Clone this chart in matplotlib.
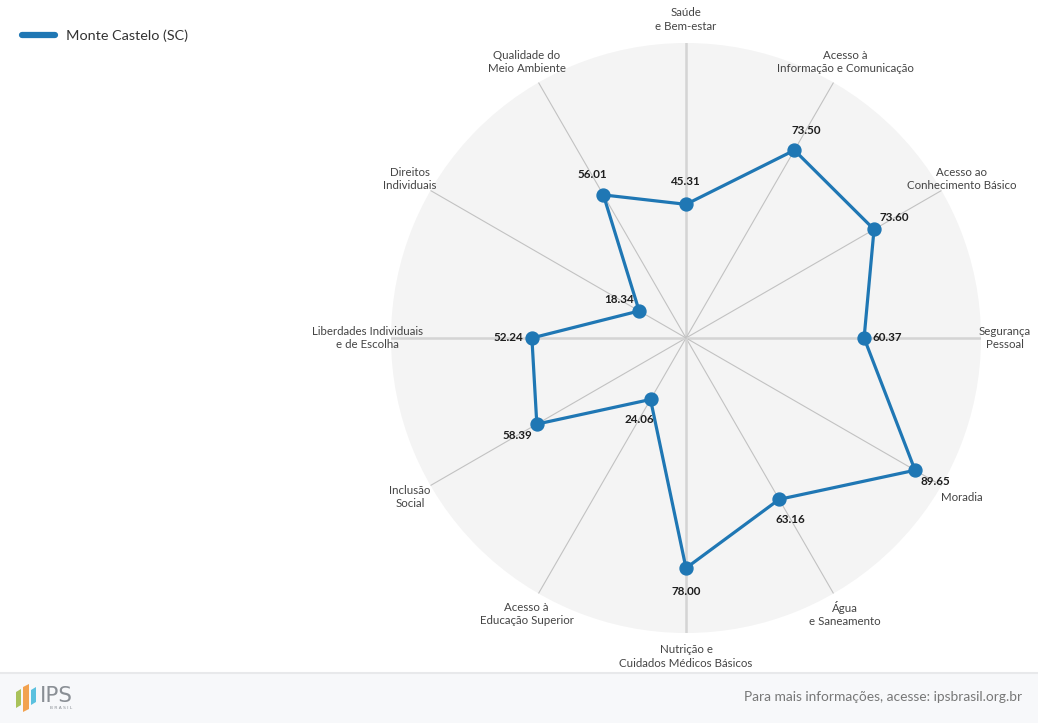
import numpy as np
import matplotlib
matplotlib.use("Agg")
import matplotlib.pyplot as plt
from matplotlib.lines import Line2D
from matplotlib.patches import Polygon, Rectangle

# data
categories = [
    "Saúde\ne Bem-estar",
    "Acesso à\nInformação e Comunicação",
    "Acesso ao\nConhecimento Básico",
    "Segurança\nPessoal",
    "Moradia",
    "Água\ne Saneamento",
    "Nutrição e\nCuidados Médicos Básicos",
    "Acesso à\nEducação Superior",
    "Inclusão\nSocial",
    "Liberdades Individuais\ne de Escolha",
    "Direitos\nIndividuais",
    "Qualidade do\nMeio Ambiente",
]
values = [45.31, 73.50, 73.60, 60.37, 89.65, 63.16, 78.00, 24.06, 58.39, 52.24, 18.34, 56.01]
series_name = "Monte Castelo (SC)"
footer_text = "Para mais informações, acesse: ipsbrasil.org.br"

W, H = 1038, 723
plt.rcParams['font.family'] = ['Lato', 'DejaVu Sans']

def px(x, y):
    # pixel coords (from top-left) -> figure fraction
    return (x / W, 1 - y / H)

fig = plt.figure(figsize=(W / 100, H / 100), dpi=100)
fig.patch.set_facecolor('white')

# polar axes centred at (686, 338), radius 295 px
cx, cy, R = 686, 338, 295
ax = fig.add_axes([(cx - R) / W, (H - cy - R) / H, 2 * R / W, 2 * R / H], projection='polar')
ax.set_theta_zero_location('N')
ax.set_theta_direction(-1)
ax.set_facecolor('#f4f4f4')
ax.spines['polar'].set_visible(False)
ax.set_ylim(0, 100)
ax.set_yticks([])

n = len(categories)
angles = np.linspace(0, 2 * np.pi, n, endpoint=False)
ax.set_xticks(angles)
ax.set_xticklabels([])
ax.tick_params(axis='x', length=0)
ax.xaxis.grid(True, color='#c2c2c2', linewidth=0.8)
for i, gl in enumerate(ax.xaxis.get_gridlines()):
    if i % 3 == 0:
        gl.set_linewidth(1.8)
        gl.set_color('#d4d4d4')

# the series
th = np.append(angles, angles[0])
vv = np.append(values, values[0])
ax.plot(th, vv, color='#1f77b4', linewidth=2.3, zorder=3, clip_on=False)
ax.plot(angles, values, 'o', color='#1f77b4', markersize=9.3, zorder=4, clip_on=False)

# value labels, pushed radially outward
for a, v in zip(angles, values):
    ax.annotate(f"{v:.2f}", xy=(a, v), xytext=(23 * np.sin(a), 23 * np.cos(a)),
                textcoords='offset pixels', ha='center', va='center',
                fontsize=8.4, fontweight='bold', color='#1e1e1e', zorder=5)

# category labels
for a, lab in zip(angles, categories):
    ax.text(a, 108, lab, ha='center', va='center', multialignment='center',
            fontsize=8.3, color='#444444', linespacing=1.25, clip_on=False)

# legend (top left)
handle = Line2D([0], [0], color='#1f77b4', linewidth=4.5, solid_capstyle='round')
fig.legend(handles=[handle], labels=[series_name], loc='center left',
           bbox_to_anchor=px(22, 36), frameon=False, fontsize=10.4,
           handlelength=2.3, handletextpad=0.75, borderpad=0, borderaxespad=0,
           labelcolor='#333333')

# footer band
fig.patches.append(Rectangle((0, 0), 1, (H - 673) / H, transform=fig.transFigure,
                             facecolor='#f7f8fa', edgecolor='none', zorder=0))
fig.lines.append(Line2D([0, 1], [(H - 673) / H] * 2, transform=fig.transFigure,
                        color='#e8e9eb', linewidth=1.5))
fig.text(*px(1022, 697), footer_text, ha='right', va='center', fontsize=9.9, color='#777777')

# IPS logo
bars = [
    ([(16, 692), (21, 689), (21, 705), (16, 708)], '#a9c25a'),
    ([(23, 687), (29, 684), (29, 709), (23, 712)], '#f2a24f'),
    ([(31, 690), (36, 687), (36, 702), (31, 705)], '#5bc1df'),
]
for pts, col in bars:
    fig.patches.append(Polygon([px(x, y) for x, y in pts], closed=True,
                               transform=fig.transFigure, facecolor=col, edgecolor='none'))
fig.text(*px(40, 702), "IPS", ha='left', va='baseline', fontsize=15.5, color='#8a8f95',
         family='DejaVu Sans')
fig.text(*px(61, 708), "B R A S I L", ha='center', va='center', fontsize=3.2, color='#8a8f95',
         family='DejaVu Sans')

fig.savefig('out.png', dpi=100)
